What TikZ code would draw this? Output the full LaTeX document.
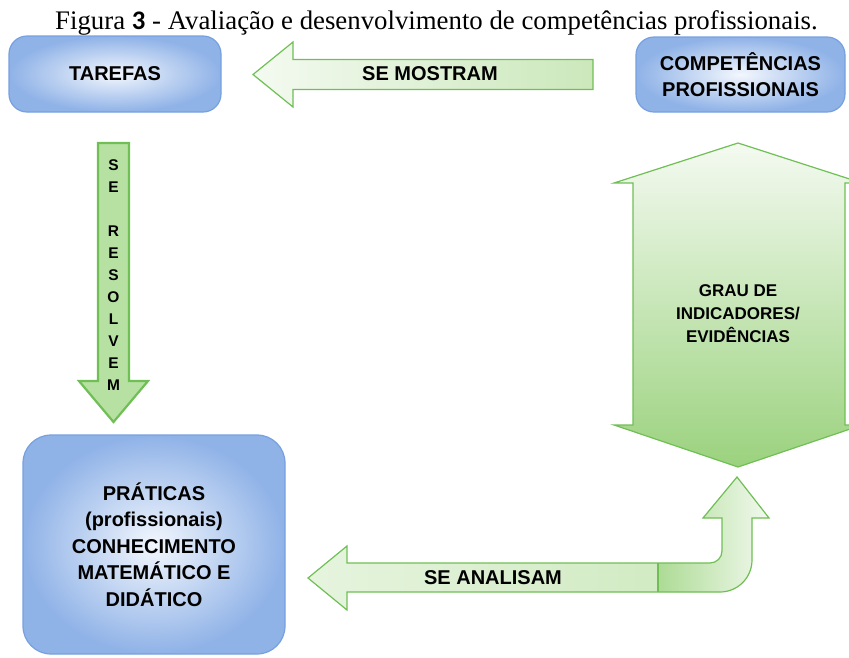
\documentclass[tikz,border=0pt]{standalone}
\usepackage{fontspec}
\setmainfont{Liberation Serif}
\newfontfamily\lsans{Liberation Sans}
\newfontfamily\carl{Carlito}
\definecolor{bluebd}{HTML}{76A0E0}
\definecolor{bluein}{HTML}{F3F7FD}
\definecolor{blueout}{HTML}{8FB2E7}
\definecolor{greenbd}{HTML}{6FBF55}
\definecolor{greenfill}{HTML}{B7E1A3}
\definecolor{glight}{HTML}{F4FAF1}
\definecolor{gdark}{HTML}{9BD27E}
\definecolor{gshaftl}{HTML}{E6F4DE}
\definecolor{gshaftr}{HTML}{CBE8BB}
\definecolor{gbend}{HTML}{ADDB95}
\tikzset{
  bluebox/.style={draw=bluebd, line width=1.2pt, inner color=bluein, outer color=blueout,
    align=center, text=black, font=\lsans\bfseries\fontsize{20}{26.5}\selectfont},
  garrow/.style={draw=greenbd, line width=1.2pt, line join=miter},
  lbl/.style={text=black, font=\lsans\bfseries\fontsize{20}{24}\selectfont}
}
\begin{document}
\begin{tikzpicture}[x=1pt,y=-1pt]
\useasboundingbox (0,0) rectangle (849,657);

% title
\node[anchor=base, inner sep=0pt, font=\fontsize{26.8}{30}\selectfont] (title) at (436.5,29)
  {Figura {\carl\bfseries 3} - Avaliação e desenvolvimento de competências profissionais.};

% boxes
\node[bluebox, rounded corners=18pt, minimum width=212pt, minimum height=76pt] (tarefas) at (115,74) {TAREFAS};
\node[bluebox, rounded corners=18pt, minimum width=209pt, minimum height=75pt] (comp) at (740.5,74.5) {COMPETÊNCIAS\\PROFISSIONAIS};
\node[bluebox, rounded corners=28pt, minimum width=262pt, minimum height=219pt] (prat) at (154,544.5)
  {PRÁTICAS\\(profissionais)\\CONHECIMENTO\\MATEMÁTICO E\\DIDÁTICO};

% SE MOSTRAM arrow
\draw[garrow, left color=glight, right color=gshaftr]
  (253,74.5) -- (293,42) -- (293,59.5) -- (593,59.5) -- (593,89.5) -- (293,89.5) -- (293,107) -- cycle;
\node[lbl] (mostram) at (430,74) {SE MOSTRAM};

% SE RESOLVEM arrow
\draw[garrow, line width=2.2pt, fill=greenfill]
  (98,143) -- (129,143) -- (129,381) -- (148,381) -- (113.5,422) -- (79,381) -- (98,381) -- cycle;
\node[align=center, text=black, font=\lsans\bfseries\fontsize{15.5}{22}\selectfont] (resolvem) at (113.5,275)
  {S\\E\\\mbox{}\\R\\E\\S\\O\\L\\V\\E\\M};

% GRAU double arrow
\draw[garrow, top color=glight, bottom color=gdark]
  (738,143) -- (862,183) -- (845,183) -- (845,425) -- (862,425) -- (738,467) -- (614,425)
  -- (633,425) -- (633,183) -- (614,183) -- cycle;
\node[align=center, text=black, font=\lsans\bfseries\fontsize{17}{23}\selectfont] (grau) at (738,314)
  {GRAU DE\\INDICADORES/\\EVIDÊNCIAS};

% SE ANALISAM bent arrow
\shade[left color=gshaftl, right color=gshaftr]
  (308,578) -- (347,546) -- (347,563) -- (710,563) .. controls (716.6,563) and (722,557.6) .. (722,551)
  -- (722,518) -- (703,518) -- (737,477) -- (769,518) -- (752,518) -- (752,560)
  .. controls (752,577.7) and (737.7,592) .. (720,592) -- (347,592) -- (347,610) -- cycle;
\begin{scope}
\clip (308,578) -- (347,546) -- (347,563) -- (710,563) .. controls (716.6,563) and (722,557.6) .. (722,551)
  -- (722,518) -- (703,518) -- (737,477) -- (769,518) -- (752,518) -- (752,560)
  .. controls (752,577.7) and (737.7,592) .. (720,592) -- (347,592) -- (347,610) -- cycle;
\shade[left color=gbend, right color=glight] (658,470) rectangle (772,600);
\end{scope}
\draw[garrow]
  (308,578) -- (347,546) -- (347,563) -- (710,563) .. controls (716.6,563) and (722,557.6) .. (722,551)
  -- (722,518) -- (703,518) -- (737,477) -- (769,518) -- (752,518) -- (752,560)
  .. controls (752,577.7) and (737.7,592) .. (720,592) -- (347,592) -- (347,610) -- cycle;
\draw[garrow] (658,563) -- (658,592);
\node[lbl] (analisam) at (493,578) {SE ANALISAM};
\end{tikzpicture}
\end{document}
